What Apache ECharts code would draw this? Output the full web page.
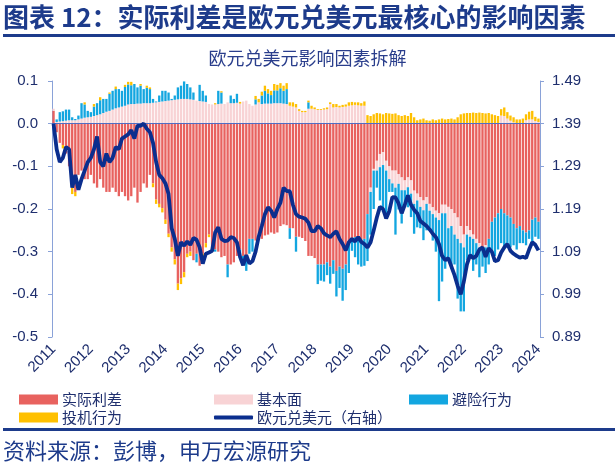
<!DOCTYPE html>
<html><head><meta charset="utf-8">
<script src="https://cdn.jsdelivr.net/npm/echarts@6/dist/echarts.min.js"></script>
<style>html,body{margin:0;padding:0;background:#fff}#c{width:615px;height:466px}</style>
</head><body><div id="c"></div>
<script>
const years = ['2011','2012','2013','2014','2015','2016','2017','2018','2019','2020','2021','2022','2023','2024'];
const seriesNames = ['实际利差','基本面','避险行为','投机行为','欧元兑美元（右轴）'];
const leftTicks = {min:-0.5, max:0.1, step:0.1};
const rightTicks = {min:0.89, max:1.49, step:0.1};

// monthly, 2011-01 .. 2024-01
const realRate = [
0.03,-0.02,-0.045,-0.05,-0.07,-0.1,-0.15,-0.16,-0.12,-0.11,
-0.13,-0.13,-0.12,-0.14,-0.15,-0.13,-0.15,-0.16,-0.16,-0.15,
-0.16,-0.17,-0.16,-0.17,-0.18,-0.17,-0.15,-0.185,-0.16,-0.14,
-0.15,-0.12,-0.14,-0.178,-0.188,-0.198,-0.225,-0.258,-0.29,-0.318,
-0.375,-0.362,-0.348,-0.305,-0.3,-0.32,-0.305,-0.333,-0.305,-0.28,
-0.26,-0.29,-0.295,-0.3,-0.313,-0.31,-0.33,-0.33,-0.325,-0.31,
-0.295,-0.31,-0.32,-0.27,-0.27,-0.274,-0.26,-0.27,-0.262,-0.26,
-0.255,-0.258,-0.255,-0.24,-0.236,-0.238,-0.245,-0.245,-0.265,-0.265,
-0.268,-0.275,-0.31,-0.31,-0.315,-0.33,-0.33,-0.33,-0.325,-0.335,
-0.32,-0.345,-0.335,-0.34,-0.33,-0.28,-0.274,-0.266,-0.27,-0.275,
-0.27,-0.212,-0.15,-0.106,-0.087,-0.071,-0.067,-0.087,-0.1,-0.11,
-0.11,-0.118,-0.126,-0.133,-0.126,-0.133,-0.157,-0.164,-0.172,-0.18,
-0.172,-0.188,-0.196,-0.204,-0.21,-0.19,-0.19,-0.195,-0.2,-0.21,
-0.22,-0.24,-0.26,-0.24,-0.25,-0.26,-0.27,-0.28,-0.29,-0.285,
-0.27,-0.23,-0.22,-0.21,-0.2,-0.21,-0.215,-0.22,-0.235,-0.245,
-0.24,-0.25,-0.255,-0.25,-0.225,-0.22,-0.23];
const fundamentals = [
0.005,0.004,0.005,0.006,0.007,0.008,0.008,0.008,0.01,0.012,
0.014,0.015,0.016,0.018,0.02,0.022,0.025,0.028,0.03,0.033,
0.036,0.038,0.04,0.042,0.045,0.046,0.046,0.047,0.047,0.048,
0.048,0.048,0.049,0.05,0.051,0.052,0.053,0.054,0.055,0.056,
0.057,0.058,0.058,0.058,0.057,0.056,0.054,0.053,0.052,0.051,
0.046,0.045,0.045,0.046,0.047,0.046,0.05,0.048,0.048,0.049,
0.047,0.052,0.054,0.046,0.042,0.045,0.05,0.046,0.047,0.047,
0.047,0.048,0.048,0.048,0.047,0.046,0.042,0.04,0.038,0.03,
0.027,0.027,0.035,0.035,0.034,0.032,0.032,0.033,0.034,0.046,
0.038,0.039,0.038,0.039,0.04,0.042,0.043,0.044,0.043,0.042,
0.042,0,-0.01,-0.004,-0.023,-0.031,-0.03,-0.023,-0.03,-0.03,
-0.04,-0.023,-0.03,-0.023,-0.023,-0.031,-0.031,-0.016,-0.023,-0.023,
-0.016,-0.016,-0.016,-0.016,-0.016,-0.02,-0.02,-0.05,-0.04,-0.05,
-0.05,-0.04,-0.03,-0.02,-0.015,-0.01,-0.01,-0.01,-0.005,-0.005,
0,0,0,0,0.019,0.018,0.012,0.007,0.003,0,
0,0,0.008,0.01,0.01,0.006,0.004];
const safeHaven = [
-0.015,0.006,0.022,0.023,0.026,0.025,0.007,0.003,0.009,0.036,
0.031,0.015,0.011,0.022,0.028,0.033,0.033,0.03,0.04,0.044,
0.045,0.043,0.037,0.044,0.047,0.044,0.047,0.038,0.042,0.033,
0.036,0.033,0.009,0.002,0.015,0.025,0.024,0.019,0.003,0.01,
0.028,0.031,0.041,0.035,0.028,0.017,-0.02,0.038,0.025,0.015,
0,0,-0.005,0.031,0.026,0,-0.03,0.018,0.01,0.021,
-0.02,-0.02,-0.025,-0.035,-0.03,0.012,-0.006,0.02,0.03,0.024,
0.02,0.03,0.03,0.035,0.03,0.035,-0.025,0,-0.035,0,
0,0,0.015,0,0,-0.046,-0.038,-0.04,-0.03,-0.04,
-0.032,-0.06,-0.05,-0.075,-0.06,-0.07,-0.024,-0.047,-0.06,-0.06,
-0.063,-0.11,-0.1,-0.09,-0.04,-0.078,-0.11,-0.11,-0.03,-0.02,
-0.11,-0.06,-0.078,-0.031,-0.047,-0.055,-0.07,-0.063,-0.05,-0.07,
-0.062,-0.04,-0.062,-0.08,-0.19,-0.16,-0.13,-0.07,-0.1,-0.07,
-0.14,-0.16,-0.15,-0.06,-0.05,-0.075,-0.05,-0.07,-0.04,-0.06,
-0.06,-0.07,-0.09,-0.085,-0.08,-0.08,-0.065,-0.07,-0.05,-0.05,
-0.04,-0.03,-0.03,-0.02,-0.055,-0.045,-0.04];
const speculation = [
0,0,0,-0.008,0,0,-0.015,-0.01,0,0,
0.005,0,0,0.006,0,0.007,0,0,0.003,0,
0.006,0,0,0.005,0.006,0.008,0,0,0.004,0,
0.005,0.004,-0.009,-0.01,-0.008,-0.01,-0.01,-0.008,-0.01,-0.012,
-0.015,-0.014,-0.012,-0.008,-0.01,0,0,0,-0.008,-0.01,
-0.006,-0.01,0.003,0,0.003,0,0,0,0,0,
0.004,0,0,0,0,0.008,0.008,0.009,0.012,0.01,
0.01,0.015,0.013,0.012,0.012,0.014,0.008,0.01,0.008,0.004,
0.003,0.003,0.004,0.007,0.004,0.002,0.002,0.003,0.004,0.004,
0.008,0.007,0.004,0.005,0.005,0.008,0.008,0.006,0.007,0.006,
0.01,0.02,0.018,0.022,0.025,0.024,0.022,0.025,0.024,0.023,
0.024,0.02,0.018,0.02,0.018,0.025,0.015,0.008,0.01,0.012,
0.008,0.007,0.01,0.008,0.01,0.012,0.01,0.011,0.012,0.01,
0.015,0.022,0.024,0.025,0.025,0.026,0.025,0.026,0.025,0.024,
0.025,0.022,0.02,0.018,0.015,0.02,0.015,0.012,0.012,0.01,
0.01,0.012,0.014,0.018,0.02,0.01,0.008];
const eurusd = [
1.39,1.33,1.30,1.31,1.335,1.33,1.24,1.27,1.235,1.26,
1.28,1.30,1.31,1.33,1.36,1.30,1.29,1.32,1.30,1.31,
1.335,1.33,1.355,1.36,1.365,1.375,1.355,1.385,1.385,1.39,
1.378,1.37,1.345,1.30,1.27,1.262,1.25,1.225,1.145,1.12,
1.08,1.112,1.104,1.114,1.106,1.122,1.118,1.10,1.062,1.085,
1.088,1.092,1.135,1.147,1.12,1.115,1.116,1.124,1.122,1.112,
1.078,1.058,1.082,1.062,1.068,1.09,1.125,1.15,1.178,1.194,
1.186,1.17,1.19,1.205,1.24,1.232,1.232,1.20,1.178,1.172,
1.17,1.167,1.158,1.138,1.138,1.15,1.145,1.133,1.128,1.124,
1.132,1.138,1.12,1.108,1.093,1.112,1.12,1.114,1.124,1.113,
1.108,1.10,1.112,1.14,1.17,1.195,1.19,1.168,1.185,1.218,
1.217,1.203,1.18,1.20,1.222,1.20,1.188,1.18,1.162,1.156,
1.15,1.142,1.132,1.124,1.108,1.08,1.07,1.075,1.055,1.035,
1.01,0.99,1.02,1.06,1.082,1.075,1.08,1.095,1.10,1.078,
1.098,1.09,1.068,1.07,1.088,1.10,1.108,1.092,1.085,1.08,
1.076,1.078,1.075,1.095,1.112,1.106,1.093];

const months = [];
years.forEach((y, k) => {
  for (let m = 1; m <= 12; m++) {
    if (k === years.length - 1 && m > 1) break;
    months.push(y + '-' + (m < 10 ? '0' + m : m));
  }
});

const NAVY = '#1F2F6E';
const AX = '#8AA2D8';
const CJK = '"Noto Sans CJK SC", sans-serif';
const NUM = '"Liberation Sans", Arial, sans-serif';
const colors = ['#E8625F', '#F8D3D5', '#13A6E0', '#FFC000', '#0B2E8E'];

const chart = echarts.init(document.getElementById('c'), null, {renderer: 'canvas'});

function barSeries(name, data, color, withZero) {
  const s = {
    name, type: 'bar', stack: 'f', data, barCategoryGap: '25%',
    itemStyle: {color}, emphasis: {disabled: true}, animation: false
  };
  if (withZero) {
    s.markLine = {silent: true, symbol: 'none', label: {show: false},
      lineStyle: {color: '#4F6EC4', width: 1, type: 'solid'}, data: [{yAxis: 0}], animation: false};
  }
  return s;
}

function legendItem(name, left, top, icon, h) {
  return {
    data: [{name, icon: icon}], left, top, itemWidth: 39, itemHeight: h, itemGap: 4,
    textStyle: {fontSize: 15, color: NAVY, fontFamily: CJK, padding: [0, 0, 0, -1]},
    selectedMode: false
  };
}

chart.setOption({
  animation: false,
  backgroundColor: '#fff',
  textStyle: {fontFamily: CJK},
  grid: {left: 52, right: 75, top: 81, bottom: 129},
  graphic: [
    {type: 'text', left: 3, top: 4, style: {text: '图表 12：实际利差是欧元兑美元最核心的影响因素',
      fontSize: 26, fontWeight: 'bold', fontFamily: CJK, fill: '#1D3B8B'}},
    {type: 'rect', shape: {x: 3, y: 34, width: 612, height: 3}, style: {fill: '#1D3B8B'}},
    {type: 'text', left: 'center', top: 49, style: {text: '欧元兑美元影响因素拆解',
      fontSize: 18, fontFamily: CJK, fill: '#2A3E8C'}},
    {type: 'rect', shape: {x: 3, y: 428, width: 612, height: 3}, style: {fill: '#1D3B8B'}},
    {type: 'text', left: 3, top: 440, style: {text: '资料来源：彭博，申万宏源研究',
      fontSize: 22, fontFamily: CJK, fill: '#1D3B8B'}}
  ],
  legend: [
    legendItem(seriesNames[0], 14, 387, 'rect', 10),
    legendItem(seriesNames[1], 209, 387, 'rect', 10),
    legendItem(seriesNames[2], 404, 387, 'rect', 10),
    legendItem(seriesNames[3], 14, 405, 'rect', 10),
    legendItem(seriesNames[4], 209, 405, 'roundRect', 4)
  ],
  xAxis: {
    type: 'category', data: months, boundaryGap: true,
    axisLine: {show: false}, axisTick: {show: false}, splitLine: {show: false},
    axisLabel: {
      interval: (idx) => idx % 12 === 0,
      formatter: (v) => v.slice(0, 4),
      rotate: 45, fontSize: 15, color: NAVY, fontFamily: NUM, margin: 10
    }
  },
  yAxis: [
    {type: 'value', min: leftTicks.min, max: leftTicks.max, interval: leftTicks.step,
      axisLine: {show: true, lineStyle: {color: AX, width: 1}},
      axisTick: {show: true, length: 4, lineStyle: {color: AX}},
      splitLine: {show: false},
      axisLabel: {formatter: (v) => v.toFixed(1), fontSize: 15, color: NAVY, fontFamily: NUM, margin: 14}},
    {type: 'value', position: 'right', min: rightTicks.min, max: rightTicks.max, interval: rightTicks.step,
      axisLine: {show: true, lineStyle: {color: AX, width: 1}},
      axisTick: {show: true, length: 4, lineStyle: {color: AX}},
      splitLine: {show: false},
      axisLabel: {formatter: (v) => v.toFixed(2), fontSize: 15, color: NAVY, fontFamily: NUM, margin: 12}}
  ],
  series: [
    barSeries(seriesNames[0], realRate, colors[0], true),
    barSeries(seriesNames[1], fundamentals, colors[1]),
    barSeries(seriesNames[2], safeHaven, colors[2]),
    barSeries(seriesNames[3], speculation, colors[3]),
    {name: seriesNames[4], type: 'line', yAxisIndex: 1, data: eurusd, symbol: 'none', showSymbol: false,
      lineStyle: {color: colors[4], width: 3.8}, itemStyle: {color: colors[4]}, z: 5, animation: false}
  ]
});
</script></body></html>
